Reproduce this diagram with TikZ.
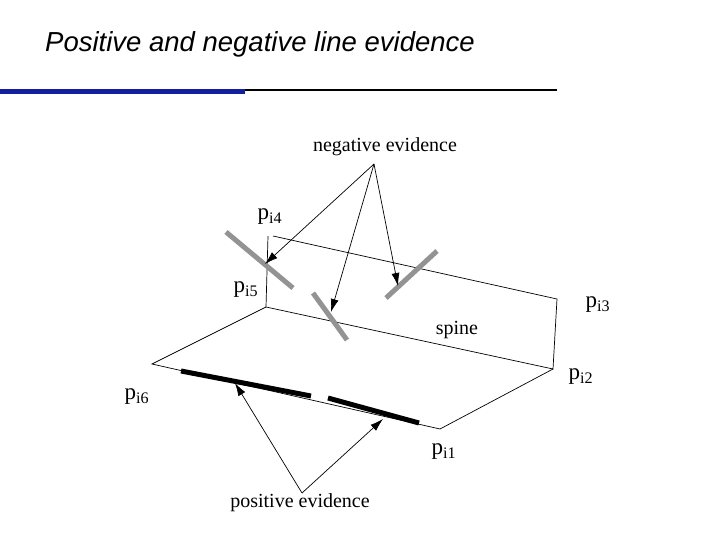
\documentclass[tikz,border=0pt]{standalone}
\usepackage{fontspec}
\usetikzlibrary{arrows.meta}
\setmainfont{Liberation Serif}
\newfontfamily\titlefont{Liberation Sans}
\begin{document}
\begin{tikzpicture}[x=1pt,y=-1pt,
  thin line/.style={draw=black,line width=0.7pt},
  arr/.style={thin line,-{Latex[length=13pt,width=8pt]}},
  negbar/.style={draw=gray!85,line width=5pt},
  posbar/.style={draw=black,line width=5pt},
  lab/.style={font=\fontsize{20}{22}\selectfont,inner sep=0pt},
  plab/.style={font=\fontsize{23}{25}\selectfont,inner sep=0pt}]
\useasboundingbox (0,0) rectangle (720,540);
\node[anchor=west,font=\titlefont\itshape\fontsize{27.5}{30}\selectfont,inner sep=0pt] (title) at (45,44) {Positive and negative line evidence};
\draw[draw={rgb,255:red,20;green,30;blue,160},line width=5pt] (0,92) -- (245,92);
\draw[line width=1.3pt] (245,90) -- (557,90);
% geometry
\coordinate (p4) at (268,236);
\coordinate (p4b) at (273,236);
\coordinate (p5) at (266,307);
\coordinate (p3) at (557,299);
\coordinate (p2) at (553,369);
\coordinate (p6) at (152,364);
\coordinate (p1) at (440,429);
\draw[thin line] (p4) -- (p5) -- (p2) -- (p3) -- (p4b);
\draw[thin line] (p5) -- (p6) -- (p1) -- (p2);
% evidence bars
\draw[posbar] (181,371) -- (311,396);
\draw[posbar] (328,398) -- (419,423);
\draw[negbar] (226,232) -- (293,288);
\draw[negbar] (313,293) -- (347,340);
\draw[negbar] (386,298) -- (437,251);
% labels
\node[plab] (l4) at (270,217) {p\textsubscript{i4}};
\node[plab] (l5) at (246,290) {p\textsubscript{i5}};
\node[plab] (l3) at (598,305) {p\textsubscript{i3}};
\node[plab] (l2) at (581,377) {p\textsubscript{i2}};
\node[plab] (l6) at (137,397) {p\textsubscript{i6}};
\node[plab] (l1) at (444,452) {p\textsubscript{i1}};
\node[lab] (spine) at (457,330) {spine};
\node[lab] (negl) at (385,147) {negative evidence};
\node[lab] (posl) at (300,503) {positive evidence};
\coordinate (ns) at (374,164);
\coordinate (ps) at (302,493);
\coordinate (n1) at (265,264);
\coordinate (n2) at (331,312);
\coordinate (n3) at (398,286);
\coordinate (q1) at (235,383);
\coordinate (q2) at (383,419);
\draw[arr] (ns) -- (n1);
\draw[arr] (ns) -- (n2);
\draw[arr] (ns) -- (n3);
\draw[arr] (ps) -- (q1);
\draw[arr] (ps) -- (q2);
\end{tikzpicture}
\end{document}
